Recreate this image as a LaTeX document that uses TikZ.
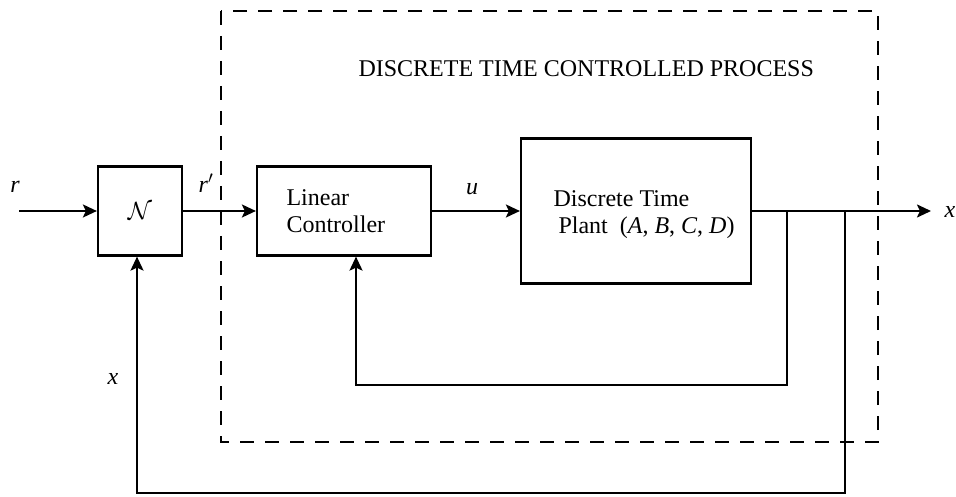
\documentclass[tikz,border=0pt]{standalone}
\usepackage{fontspec}
\setmainfont{Liberation Serif}
\usetikzlibrary{arrows.meta}

\begin{document}
\begin{tikzpicture}[x=1pt,y=-1pt,
    every node/.style={font=\fontsize{24}{27}\selectfont},
    blk/.style={draw,line width=2.2pt,inner sep=0pt},
    sig/.style={line width=2.2pt,-{Stealth[length=14pt,width=13pt,inset=3pt]}},
    wire/.style={line width=2.2pt}]
    \useasboundingbox (0,0) rectangle (956,497);

    % process frame
    \draw[line width=2.2pt,dash pattern=on 14pt off 11pt] (221,11) rectangle (878,442);
    \node[anchor=base west] (title) at (355,77) {DISCRETE TIME CONTROLLED PROCESS};

    \node[blk,minimum width=84pt,minimum height=89pt] (N) at (140,211) {$\mathcal{N}$};
    \node[blk,minimum width=174pt,minimum height=89pt] (ctrl) at (344,211) {};
    \node[blk,minimum width=230pt,minimum height=145pt] (plant) at (636,211) {};
    \node[anchor=west,align=left] (ctrltext) at (283,211) {Linear\\Controller};
    \node[anchor=west,align=left] (planttext) at (550,215) {Discrete Time\\\hspace*{5pt}Plant\ \ (\textit{A}, \textit{B}, \textit{C}, \textit{D})};

    \coordinate (rin) at (19,211);
    \coordinate (xout) at (931,211);
    \coordinate (b1) at (787,211);
    \coordinate (b2) at (845,211);

    \foreach \from/\to in {rin/N, N/ctrl, ctrl/plant, plant/xout}
      \draw[sig] (\from) -- (\to);

    % feedback paths
    \draw[sig] (b1) |- (356,385) -- ([xshift=12pt]ctrl.south);
    \draw[sig] (b2) |- (137,493) -- ([xshift=-3pt]N.south);

    \node[anchor=base] (rlab) at (15,193) {\textit{r}};
    \node[anchor=base] (rplab) at (206,193) {\textit{r}$'$};
    \node[anchor=base] (ulab) at (472,195) {\textit{u}};
    \node[anchor=base west] (xlab) at (941,218) {\textit{x}};
    \node[anchor=base] (xfb) at (113,384) {\textit{x}};
  \end{tikzpicture}
\end{document}
